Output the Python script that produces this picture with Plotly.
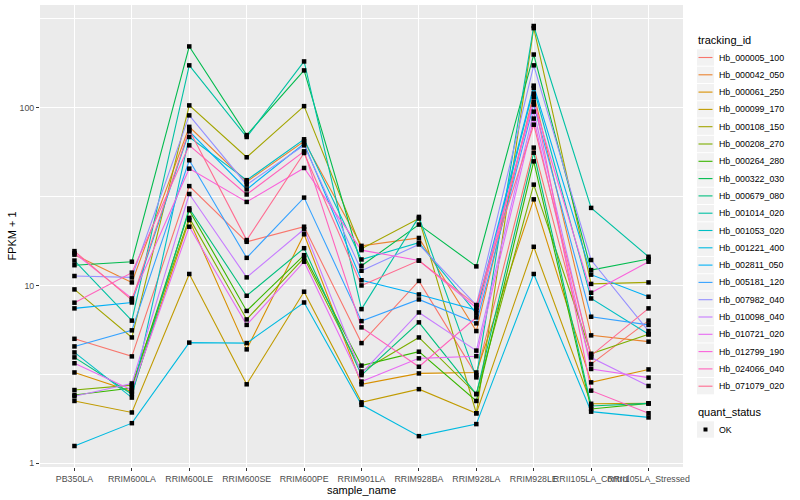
import numpy as np
import plotly.graph_objects as go

samples = ["PB350LA", "RRIM600LA", "RRIM600LE", "RRIM600SE", "RRIM600PE",
           "RRIM901LA", "RRIM928BA", "RRIM928LA", "RRIM928LE",
           "RRII105LA_Control", "RRII105LA_Stressed"]

tracking_ids = ["Hb_000005_100", "Hb_000042_050", "Hb_000061_250", "Hb_000099_170",
                "Hb_000108_150", "Hb_000208_270", "Hb_000264_280", "Hb_000322_030",
                "Hb_000679_080", "Hb_001014_020", "Hb_001053_020", "Hb_001221_400",
                "Hb_002811_050", "Hb_005181_120", "Hb_007982_040", "Hb_010098_040",
                "Hb_010721_020", "Hb_012799_190", "Hb_024066_040", "Hb_071079_020"]

colors = ["#F8766D", "#EA8331", "#D89000", "#C09B00", "#A3A500", "#7CAE00",
          "#39B600", "#00BB4E", "#00BF7D", "#00C1A3", "#00BFC4", "#00BAE0",
          "#00B0F6", "#35A2FF", "#9590FF", "#C77CFF", "#E76BF3", "#FA62DB",
          "#FF62BC", "#FF6C91"]

# FPKM + 1 per tracking_id, in sample order
Hb_000005_100 = [5.01, 3.99, 36.2, 17.6, 21.4, 4.74, 10.6, 3.13, 59.6, 3.61, 6.34]
Hb_000042_050 = [14.9, 10.4, 78, 38.3, 64.7, 16.7, 18.5, 5.54, 120, 5.24, 4.83]
Hb_000061_250 = [3.24, 2.53, 23.3, 4.37, 19.4, 2.78, 3.2, 3.24, 30.5, 2.85, 3.37]
Hb_000099_170 = [2.24, 1.93, 11.6, 2.78, 9.22, 2.2, 2.61, 1.91, 16.5, 2.16, 2.17]
Hb_000108_150 = [9.5, 5.1, 103, 52.6, 102, 16.1, 23.8, 1.91, 280, 10.2, 10.4]
Hb_000208_270 = [2.58, 2.75, 24.0, 6.44, 14.3, 3.28, 5.1, 2.45, 36.9, 4.13, 5.31]
Hb_000264_280 = [2.42, 2.65, 26.5, 7.19, 14.8, 3.54, 4.24, 2.24, 49.9, 2.02, 2.17]
Hb_000322_030 = [13.0, 13.6, 221, 70.1, 162, 12.9, 22.0, 12.8, 199, 12.2, 14.1]
Hb_000679_080 = [3.94, 2.45, 27.1, 8.75, 16.2, 3.13, 6.2, 2.45, 55.8, 2.1, 2.17]
Hb_001014_020 = [13.8, 6.34, 173, 68.4, 182, 7.36, 24.3, 3.04, 288, 27.3, 14.5]
Hb_001053_020 = [4.2, 2.34, 68.4, 39.1, 66.4, 14.0, 17.4, 6.96, 129, 8.45, 5.31]
Hb_001221_400 = [1.25, 1.68, 4.77, 4.74, 8.02, 2.13, 1.42, 1.66, 11.6, 1.95, 1.81]
Hb_002811_050 = [7.43, 8.02, 73.6, 34.7, 62.8, 10.7, 8.9, 7.27, 133, 11.5, 8.64]
Hb_005181_120 = [4.54, 5.59, 50.6, 14.3, 31.2, 6.3, 8.34, 6.12, 104, 6.67, 6.0]
Hb_007982_040 = [11.3, 11.1, 90.5, 36.9, 61.4, 12.1, 17.0, 7.75, 173, 13.9, 5.54]
Hb_010098_040 = [2.38, 2.81, 32.7, 11.1, 20.7, 3.2, 7.05, 4.3, 95, 3.93, 2.72]
Hb_010721_020 = [3.65, 2.58, 21.4, 6.0, 13.6, 2.88, 3.89, 4.0, 86.8, 3.39, 3.03]
Hb_012799_190 = [15.2, 8.45, 45.4, 29.5, 45.8, 15.8, 13.8, 7.49, 108, 9.1, 13.6]
Hb_024066_040 = [8.0, 11.8, 61.4, 32.5, 56.8, 5.81, 3.49, 6.61, 115, 2.56, 1.91]
Hb_071079_020 = [15.6, 8.27, 75, 18.0, 55.6, 10.0, 13.8, 7.75, 80.2, 4.03, 7.43]

series = [Hb_000005_100, Hb_000042_050, Hb_000061_250, Hb_000099_170, Hb_000108_150,
          Hb_000208_270, Hb_000264_280, Hb_000322_030, Hb_000679_080, Hb_001014_020,
          Hb_001053_020, Hb_001221_400, Hb_002811_050, Hb_005181_120, Hb_007982_040,
          Hb_010098_040, Hb_010721_020, Hb_012799_190, Hb_024066_040, Hb_071079_020]

quant_status = ["OK"]

FONT = "Liberation Sans, Arial, Helvetica, sans-serif"
W, H = 800, 500
ML, MR, MT, MB = 40, 117, 5, 33
PW, PH = W - ML - MR, H - MT - MB


def px(xp):
    return (xp - ML) / PW


def py(yp):
    return (H - MB - yp) / PH


fig = go.Figure()
for name, vals, col in zip(tracking_ids, series, colors):
    fig.add_trace(go.Scatter(
        x=samples, y=vals, mode="lines", name=name,
        line=dict(color=col, width=1.1), showlegend=False,
    ))

all_x = [s for _ in series for s in samples]
all_y = [v for vals in series for v in vals]
fig.add_trace(go.Scatter(
    x=all_x, y=all_y, mode="markers", name=quant_status[0],
    marker=dict(symbol="square", size=4.5, color="black", line=dict(width=0)),
    showlegend=False,
))

lo = np.log10(min(all_y))
hi = np.log10(max(all_y))
pad = (hi - lo) * 0.05

# ---- manual ggplot-style legends ----
shapes = []
annotations = []
KX0, KX1 = 697, 714
KEYH = 17.3
first_y = 57.5
annotations.append(dict(text="tracking_id", x=px(696), y=py(40), xref="paper", yref="paper",
                        xanchor="left", yanchor="middle", showarrow=False,
                        font=dict(size=11, family=FONT, color="black")))
for i, (name, col) in enumerate(zip(tracking_ids, colors)):
    yc = first_y + i * KEYH
    shapes.append(dict(type="rect", xref="paper", yref="paper", layer="below",
                       x0=px(KX0), x1=px(KX1), y0=py(yc - KEYH / 2 + 0.5), y1=py(yc + KEYH / 2 - 0.5),
                       fillcolor="#F2F2F2", line=dict(width=0)))
    shapes.append(dict(type="line", xref="paper", yref="paper",
                       x0=px(KX0 + 1.5), x1=px(KX1 - 1.5), y0=py(yc), y1=py(yc),
                       line=dict(color=col, width=1.1)))
    annotations.append(dict(text=name, x=px(716.5), y=py(yc), xref="paper", yref="paper",
                            xanchor="left", yanchor="middle", showarrow=False,
                            font=dict(size=8.8, family=FONT, color="black")))

annotations.append(dict(text="quant_status", x=px(696), y=py(412), xref="paper", yref="paper",
                        xanchor="left", yanchor="middle", showarrow=False,
                        font=dict(size=11, family=FONT, color="black")))
yc = 429.5
shapes.append(dict(type="rect", xref="paper", yref="paper", layer="below",
                   x0=px(KX0), x1=px(KX1), y0=py(yc - KEYH / 2 + 0.5), y1=py(yc + KEYH / 2 - 0.5),
                   fillcolor="#F2F2F2", line=dict(width=0)))
shapes.append(dict(type="rect", xref="paper", yref="paper",
                   x0=px(703.5), x1=px(707.5), y0=py(yc - 2), y1=py(yc + 2),
                   fillcolor="black", line=dict(width=0)))
annotations.append(dict(text=quant_status[0], x=px(716.5), y=py(yc), xref="paper", yref="paper",
                        xanchor="left", yanchor="middle", showarrow=False,
                        font=dict(size=8.8, family=FONT, color="black")))

fig.update_layout(
    width=W, height=H,
    margin=dict(l=ML, r=MR, t=MT, b=MB, autoexpand=False),
    paper_bgcolor="white", plot_bgcolor="#EBEBEB",
    font=dict(family=FONT, size=9, color="black"),
    showlegend=False,
    shapes=shapes, annotations=annotations,
    xaxis=dict(
        type="category", categoryorder="array", categoryarray=samples,
        range=[-0.6, len(samples) - 0.4],
        showgrid=True, gridcolor="white", gridwidth=1.1,
        ticks="outside", ticklen=3, tickcolor="#333333", tickwidth=1,
        tickangle=0, tickfont=dict(size=8.8, color="#4D4D4D"),
        title=dict(text="sample_name", font=dict(size=11), standoff=2),
        zeroline=False, showline=False, automargin=False,
    ),
    yaxis=dict(
        type="log", range=[lo - pad, hi + pad],
        tickvals=[1, 10, 100], ticktext=["1", "10", "100"],
        showgrid=True, gridcolor="white", gridwidth=1.1,
        minor=dict(tickvals=[10 ** 0.5, 10 ** 1.5, 10 ** 2.5], showgrid=True,
                   gridcolor="white", gridwidth=0.55, ticks=""),
        ticks="outside", ticklen=3, tickcolor="#333333", tickwidth=1,
        tickfont=dict(size=8.8, color="#4D4D4D"),
        title=dict(text="FPKM + 1", font=dict(size=11), standoff=0),
        zeroline=False, showline=False, automargin=False,
    ),
)

fig.write_html("out.html", config={"displayModeBar": False},
               post_script="document.body.style.margin='0';")
